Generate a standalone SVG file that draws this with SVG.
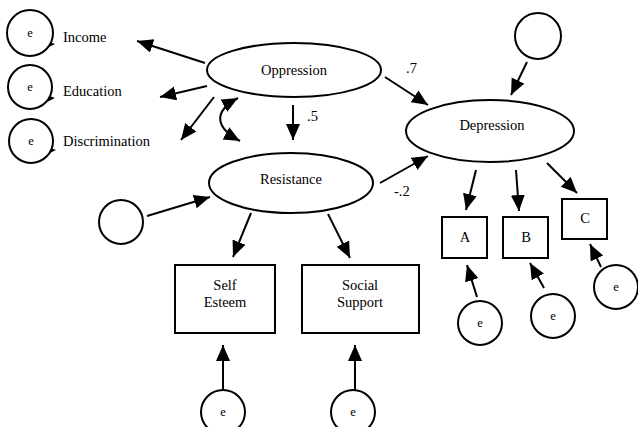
<svg xmlns="http://www.w3.org/2000/svg" width="638" height="427" viewBox="0 0 638 427">
<style>
.n{fill:#fff;stroke:#000;stroke-width:2}
.t{font-size:14.5px;fill:#000}
.m{text-anchor:middle}
.s{font-size:12.5px;fill:#000;text-anchor:middle}
.c{stroke:#000;stroke-width:2;fill:none;marker-end:url(#a)}
</style>
<defs>
<marker id="a" markerUnits="userSpaceOnUse" markerWidth="17" markerHeight="15" refX="16" refY="7" orient="auto-start-reverse" viewBox="0 0 17 15">
<path d="M0,0 L16,7 L0,14 z" fill="#000"/>
</marker>
</defs>
<rect width="638" height="427" fill="#fff"/>
<g id="connectors">
<line class="c" x1="205" y1="63" x2="137" y2="41"/>
<line class="c" x1="207" y1="86" x2="160" y2="97"/>
<line class="c" x1="214" y1="97" x2="181" y2="140"/>
<path class="c" style="marker-start:url(#a)" d="M238,98 C212,112 216,128 240,141"/>
<line class="c" x1="293" y1="105" x2="293" y2="140"/>
<line class="c" x1="385" y1="77" x2="428" y2="105"/>
<line class="c" x1="527" y1="62" x2="511" y2="95"/>
<line class="c" x1="380" y1="183" x2="428" y2="156"/>
<line class="c" x1="147" y1="216" x2="210" y2="197"/>
<line class="c" x1="251" y1="213" x2="233" y2="257"/>
<line class="c" x1="328" y1="214" x2="350" y2="258"/>
<line class="c" x1="223" y1="390" x2="223" y2="345"/>
<line class="c" x1="355" y1="390" x2="355" y2="345"/>
<line class="c" x1="476" y1="170" x2="466" y2="210"/>
<line class="c" x1="516" y1="170" x2="519" y2="211"/>
<line class="c" x1="547" y1="163" x2="577" y2="193"/>
<line class="c" x1="477" y1="297" x2="467" y2="265"/>
<line class="c" x1="544" y1="288" x2="530" y2="263"/>
<line class="c" x1="601" y1="267" x2="590" y2="244"/>
<polygon points="47,41 55,44 47,48" fill="#000"/>
<polygon points="47,95 55,98 47,102" fill="#000"/>
<polygon points="48,147 56,150 48,154" fill="#000"/>
</g>
<g font-family="'Liberation Serif', 'Times New Roman', serif">
<g id="labels">
<text class="t" x="307" y="121">.5</text>
<text class="t" x="406" y="73">.7</text>
<text class="t" x="394" y="196">-.2</text>
</g>
<g id="e1"><circle class="n" cx="30" cy="33" r="23"/><text class="s" x="30" y="37">e</text></g>
<g id="e2"><circle class="n" cx="30" cy="87" r="22"/><text class="s" x="30" y="91">e</text></g>
<g id="e3"><circle class="n" cx="31" cy="141" r="22"/><text class="s" x="31" y="145">e</text></g>
<g id="income"><text class="t" x="63" y="42">Income</text></g>
<g id="education"><text class="t" x="63" y="96">Education</text></g>
<g id="discrimination"><text class="t" x="63" y="146">Discrimination</text></g>
<g id="oppression"><ellipse class="n" cx="294" cy="70" rx="87" ry="27"/><text class="t m" x="294" y="75">Oppression</text></g>
<g id="depression"><ellipse class="n" cx="490" cy="131" rx="84" ry="31"/><text class="t m" x="492" y="130">Depression</text></g>
<g id="dep-dist"><circle class="n" cx="538" cy="36" r="23"/></g>
<g id="resistance"><ellipse class="n" cx="291" cy="183" rx="82" ry="30"/><text class="t m" x="291" y="184">Resistance</text></g>
<g id="res-dist"><circle class="n" cx="121" cy="222" r="22"/></g>
<g id="selfesteem"><rect class="n" x="175" y="265" width="100" height="68"/><text class="t m" x="225" y="290">Self</text><text class="t m" x="225" y="307">Esteem</text></g>
<g id="socialsupport"><rect class="n" x="302" y="265" width="117" height="68"/><text class="t m" x="360" y="290">Social</text><text class="t m" x="360" y="307">Support</text></g>
<g id="e4"><circle class="n" cx="223" cy="412" r="22"/><text class="s" x="223" y="416">e</text></g>
<g id="e5"><circle class="n" cx="353" cy="412" r="22"/><text class="s" x="353" y="416">e</text></g>
<g id="A"><rect class="n" x="442" y="217" width="45" height="41"/><text class="t m" x="465" y="242">A</text></g>
<g id="B"><rect class="n" x="503" y="217" width="45" height="41"/><text class="t m" x="526" y="242">B</text></g>
<g id="C"><rect class="n" x="562" y="199" width="45" height="40"/><text class="t m" x="585" y="223">C</text></g>
<g id="eA"><circle class="n" cx="480" cy="323" r="22"/><text class="s" x="480" y="327">e</text></g>
<g id="eB"><circle class="n" cx="553" cy="316" r="22"/><text class="s" x="553" y="320">e</text></g>
<g id="eC"><circle class="n" cx="616" cy="287" r="22"/><text class="s" x="616" y="291">e</text></g>
</g>
</svg>
